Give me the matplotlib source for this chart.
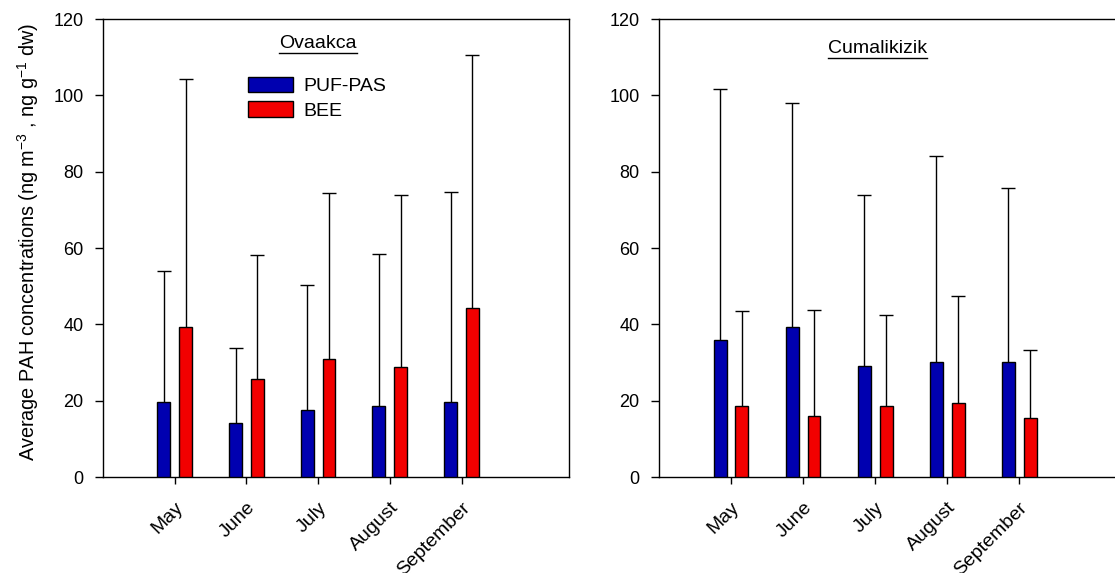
import numpy as np
import matplotlib
matplotlib.use('Agg')
import matplotlib.pyplot as plt
from matplotlib.lines import Line2D

plt.rcParams['font.family'] = ['Liberation Sans', 'DejaVu Sans']

months = ['May', 'June', 'July', 'August', 'September']
series_names = ['PUF-PAS', 'BEE']

# Ovaakca: means and upper error bar tops
ova_puf = [19.6, 14.1, 17.6, 18.6, 19.7]
ova_bee = [39.4, 25.8, 31.0, 28.7, 44.4]
ova_puf_top = [54.0, 33.9, 50.2, 58.5, 74.8]
ova_bee_top = [104.3, 58.1, 74.3, 73.8, 110.5]

# Cumalikizik
cum_puf = [35.9, 39.3, 29.1, 30.1, 30.1]
cum_bee = [18.6, 15.9, 18.5, 19.3, 15.4]
cum_puf_top = [101.7, 97.9, 74.0, 84.1, 75.8]
cum_bee_top = [43.6, 43.7, 42.5, 47.5, 33.3]

BLUE = '#0000b0'
RED = '#f20000'


def underline_title(fig, ax, text, x, y):
    """put a title inside the axes and draw a line under it"""
    t = ax.text(x, y, text, ha='center', va='center', fontsize=14)
    fig.canvas.draw()
    bb = t.get_window_extent().transformed(fig.transFigure.inverted())
    fig.add_artist(Line2D([bb.x0, bb.x1], [bb.y0 - 0.002, bb.y0 - 0.002],
                          transform=fig.transFigure, color='black', lw=1.0))


def draw_panel(ax, puf, bee, puf_top, bee_top):
    x = np.arange(1, len(months) + 1)
    w = 0.18
    off = 0.152
    for vals, tops, col, sign in [(puf, puf_top, BLUE, -1), (bee, bee_top, RED, 1)]:
        vals = np.array(vals)
        tops = np.array(tops)
        ax.bar(x + sign * off, vals, width=w, color=col, edgecolor='black',
               linewidth=1.0, zorder=3)
        eb = ax.errorbar(x + sign * off, vals, yerr=[np.zeros_like(vals), tops - vals],
                         fmt='none', ecolor='black', elinewidth=1.0, capsize=5.3,
                         capthick=1.0, zorder=2)
        # only the upper cap is drawn
        eb[1][0].set_visible(False)

    ax.set_xlim(0, 6.5)
    ax.set_ylim(0, 120)
    ax.set_yticks(np.arange(0, 121, 20))
    ax.set_xticks(x)
    ax.set_xticklabels(months, rotation=45, ha='right', rotation_mode='anchor')
    ax.tick_params(axis='y', direction='out', length=6, width=1, pad=8, labelsize=13)
    ax.tick_params(axis='x', direction='out', length=5, width=1, pad=11, labelsize=14)
    for sp in ax.spines.values():
        sp.set_linewidth(1.0)


fig = plt.figure(figsize=(11.15, 5.73), dpi=100)
ax1 = fig.add_axes([0.0924, 0.1675, 0.418, 0.7993])
ax2 = fig.add_axes([0.591, 0.1675, 0.42, 0.7993])

draw_panel(ax1, ova_puf, ova_bee, ova_puf_top, ova_bee_top)
draw_panel(ax2, cum_puf, cum_bee, cum_puf_top, cum_bee_top)

ax1.set_ylabel('Average PAH concentrations (ng m$^{\\mathregular{-3}}$ , ng g$^{\\mathregular{-1}}$ dw)',
               fontsize=14.3)
ax1.yaxis.set_label_coords(-0.133, 0.513)

handles = [plt.Rectangle((0, 0), 1, 1, facecolor=BLUE, edgecolor='black', lw=1.0),
           plt.Rectangle((0, 0), 1, 1, facecolor=RED, edgecolor='black', lw=1.0)]
ax1.legend(handles, series_names, loc='upper left', bbox_to_anchor=(0.311, 0.874),
           frameon=False, fontsize=14, handlelength=2.3, handleheight=0.85,
           labelspacing=0.3, handletextpad=0.55, borderpad=0, borderaxespad=0)

underline_title(fig, ax1, 'Ovaakca', 3.0, 113.5)
underline_title(fig, ax2, 'Cumalikizik', 3.03, 112.4)

fig.savefig('out.png', dpi=100)
